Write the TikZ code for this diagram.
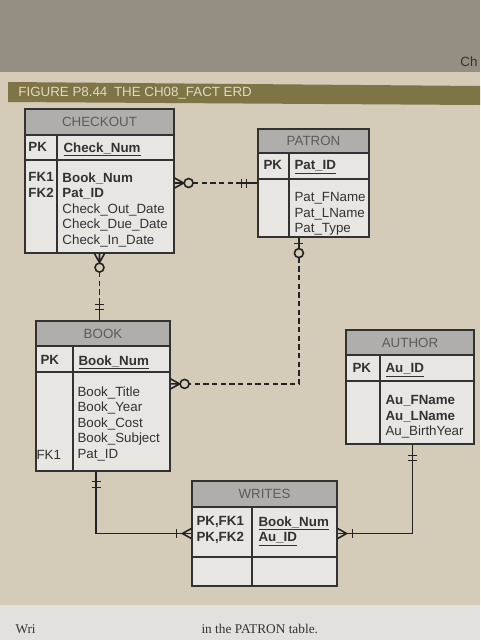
\documentclass[tikz,border=0pt]{standalone}
\usepackage{fontspec}
\setmainfont{Liberation Sans}
\newfontfamily\pageserif{Liberation Serif}
\usetikzlibrary{fit,calc}

\definecolor{pagebg}{RGB}{212,204,184}
\definecolor{topbg}{RGB}{148,143,130}
\definecolor{nextpage}{RGB}{226,225,222}
\definecolor{bandolive}{RGB}{126,116,70}
\definecolor{bandtext}{RGB}{224,218,192}
\definecolor{hdrgrey}{RGB}{176,174,170}
\definecolor{cellgrey}{RGB}{232,230,226}
\definecolor{inkgrey}{RGB}{50,50,50}

\tikzset{every picture/.style={line width=0.75pt}}
\tikzset{
  entbox/.style={draw=inkgrey, fill=cellgrey, inner sep=0pt, line width=0.9pt},
  hdrbox/.style={draw=inkgrey, fill=hdrgrey, line width=0.9pt},
  cellline/.style={draw=inkgrey, line width=0.9pt},
  enttitle/.style={inner sep=0.75pt, text=inkgrey!80, font=\fontsize{10}{12}\selectfont},
  attr/.style={anchor=north west, inner sep=0.75pt, align=left, text=inkgrey, font=\fontsize{10}{11.7}\selectfont},
  rel/.style={draw=inkgrey!70!black, line width=1.2pt},
  reldash/.style={rel, dash pattern=on 4pt off 2.5pt},
  pagetext/.style={anchor=north west, inner sep=0.75pt, text=black!80, font=\pageserif\fontsize{10}{12}\selectfont},
}

\begin{document}
\begin{tikzpicture}[x=0.75pt,y=0.75pt,yscale=-1,xscale=1]
\useasboundingbox (0,0) rectangle (480,640);
\clip (0,0) rectangle (480,640);

% page background
\fill[topbg] (0,0) rectangle (480,72);
\fill[pagebg] (0,72) rectangle (480,605);
\fill[nextpage] (0,605) rectangle (480,640);
\node[anchor=east, inner sep=0.75pt, text=inkgrey, font=\fontsize{10}{12}\selectfont] (nextch) at (479,62) {Ch};
\node[pagetext] (qwri) at (14,623) {Wri};
\node[pagetext] (qtable) at (200,623) {in the PATRON table.};

% figure title band
\fill[bandolive] (8,82) -- (480,86) -- (480,105) -- (8,102) -- cycle;
\node[anchor=west, inner sep=0.75pt, text=bandtext, font=\fontsize{10}{12}\selectfont] (figtitle) at (17,93) {FIGURE P8.44\enspace THE CH08\_FACT ERD};

%Entity: CHECKOUT
\node[entbox, fit={(25,109) (174,253)}] (checkout) {};
\draw[hdrbox] (25,109) rectangle (174,135);
\draw[cellline] (25,160) -- (174,160) (57,135) -- (57,253);
\node[enttitle] (checkout-t) at (99.5,122) {CHECKOUT};
\node[attr] (checkout-pk) at (27,141) {\textbf{PK}};
\node[attr] (checkout-key) at (62,141) {\textbf{\underline{Check\_Num}}};
\node[attr] (checkout-fk) at (27,171) {\textbf{FK1}\\\textbf{FK2}};
\node[attr] (checkout-att) at (61,171) {\textbf{Book\_Num}\\\textbf{Pat\_ID}\\Check\_Out\_Date\\Check\_Due\_Date\\Check\_In\_Date};

%Entity: PATRON
\node[entbox, fit={(258,129) (369,237)}] (patron) {};
\draw[hdrbox] (258,129) rectangle (369,153);
\draw[cellline] (258,179) -- (369,179) (289,153) -- (289,237);
\node[enttitle] (patron-t) at (313.5,141) {PATRON};
\node[attr] (patron-pk) at (262,159) {\textbf{PK}};
\node[attr] (patron-key) at (293,159) {\textbf{\underline{Pat\_ID}}};
\node[attr] (patron-att) at (293,191) {Pat\_FName\\Pat\_LName\\Pat\_Type};

%Entity: BOOK
\node[entbox, fit={(36,321) (170,471)}] (book) {};
\draw[hdrbox] (36,321) rectangle (170,346);
\draw[cellline] (36,372) -- (170,372) (73,346) -- (73,471);
\node[enttitle] (book-t) at (103,334) {BOOK};
\node[attr] (book-pk) at (39,354) {\textbf{PK}};
\node[attr] (book-key) at (77,354) {\textbf{\underline{Book\_Num}}};
\node[attr] (book-att) at (76,385) {Book\_Title\\Book\_Year\\Book\_Cost\\Book\_Subject\\Pat\_ID};
\node[attr] (book-fk) at (35,449) {FK1};

%Entity: AUTHOR
\node[entbox, fit={(346,330) (474,444)}] (author) {};
\draw[hdrbox] (346,330) rectangle (474,355);
\draw[cellline] (346,381) -- (474,381) (380,355) -- (380,444);
\node[enttitle] (author-t) at (410,343) {AUTHOR};
\node[attr] (author-pk) at (351,362) {\textbf{PK}};
\node[attr] (author-key) at (384,362) {\textbf{\underline{Au\_ID}}};
\node[attr] (author-att) at (384,394) {\textbf{Au\_FName}\\\textbf{Au\_LName}\\Au\_BirthYear};

%Entity: WRITES
\node[entbox, fit={(192,481) (337,586)}] (writes) {};
\draw[hdrbox] (192,481) rectangle (337,507);
\draw[cellline] (192,557) -- (337,557) (252,507) -- (252,586);
\node[enttitle] (writes-t) at (264.5,494) {WRITES};
\node[attr] (writes-pk) at (195,515) {\textbf{PK,FK1}\\\textbf{PK,FK2}};
\node[attr] (writes-key) at (257,515) {\textbf{\underline{Book\_Num}}\\\textbf{\underline{Au\_ID}}};

%Relationship: CHECKOUT -- PATRON
\coordinate (cp1) at (checkout.east |- patron.west);
\draw[rel] (cp1) ++(0,-5) -- ++(9,5) -- ++(-9,5) (cp1) -- ++(9,0);
\draw[rel] ($(cp1)+(14,0)$) circle (4.5);
\draw[reldash] ($(cp1)+(18.5,0)$) -- ($(patron.west)+(-18,0)$);
\draw[rel] ($(patron.west)+(-18,0)$) -- (patron.west);
\draw[rel] ($(patron.west)+(-16,-4.5)$) -- ++(0,9) ($(patron.west)+(-11,-4.5)$) -- ++(0,9);

%Relationship: CHECKOUT -- BOOK
\coordinate (cb1) at (checkout.south);
\coordinate (cb2) at (checkout.south |- book.north);
\draw[rel] (cb1) ++(-5,0) -- ++(5,9) -- ++(5,-9) (cb1) -- ++(0,9);
\draw[rel] ($(cb1)+(0,14)$) circle (4.5);
\draw[reldash] ($(cb1)+(0,18.5)$) -- ($(cb2)+(0,-18)$);
\draw[rel] ($(cb2)+(0,-18)$) -- (cb2);
\draw[rel] ($(cb2)+(-4.5,-16)$) -- ++(9,0) ($(cb2)+(-4.5,-11)$) -- ++(9,0);

%Relationship: PATRON -- BOOK
\coordinate (pb1) at ($(patron.south west)!0.37!(patron.south east)$);
\coordinate (pb2) at ($(book.north east)!0.42!(book.south east)$);
\draw[rel] (pb1) -- ++(0,11);
\draw[rel] ($(pb1)+(-4.5,6)$) -- ++(9,0);
\draw[rel] ($(pb1)+(0,15.5)$) circle (4.5);
\draw[reldash] ($(pb1)+(0,20)$) |- ($(pb2)+(18.5,0)$);
\draw[rel] (pb2) ++(0,-5) -- ++(9,5) -- ++(-9,5) (pb2) -- ++(9,0);
\draw[rel] ($(pb2)+(14,0)$) circle (4.5);

%Relationship: BOOK -- WRITES
\coordinate (bw1) at ($(book.south west)!0.45!(book.south east)$);
\draw[rel] (bw1) |- (writes.west);
\draw[rel] ($(bw1)+(-4.5,10)$) -- ++(9,0) ($(bw1)+(-4.5,16)$) -- ++(9,0);
\draw[rel] (writes.west) ++(0,-5) -- ++(-9,5) -- ++(9,5);
\draw[rel] ($(writes.west)+(-15,-4.5)$) -- ++(0,9);

%Relationship: AUTHOR -- WRITES
\coordinate (aw1) at ($(author.south west)!0.52!(author.south east)$);
\draw[rel] (aw1) |- (writes.east);
\draw[rel] ($(aw1)+(-4.5,11)$) -- ++(9,0) ($(aw1)+(-4.5,16)$) -- ++(9,0);
\draw[rel] (writes.east) ++(0,-5) -- ++(9,5) -- ++(-9,5);
\draw[rel] ($(writes.east)+(15,-4.5)$) -- ++(0,9);

\end{tikzpicture}
\end{document}
